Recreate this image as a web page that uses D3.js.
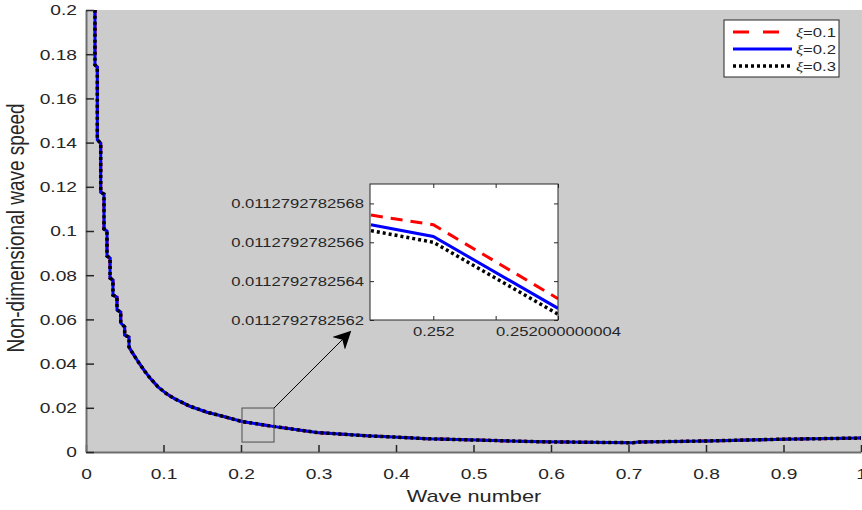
<!DOCTYPE html>
<html>
<head>
<meta charset="utf-8">
<script src="https://cdn.jsdelivr.net/npm/d3@7"></script>
<style>
  body { margin: 0; background: #fff; }
  text { font-family: "Liberation Sans", Arial, sans-serif; fill: #262626; }
</style>
</head>
<body>
<script>
// wave number samples
const waveNumber = [0.0116, 0.0116, 0.0146, 0.0146, 0.0190, 0.0190, 0.0232, 0.0232, 0.0271, 0.0271,
    0.0310, 0.0310, 0.0348, 0.0348, 0.0400, 0.0400, 0.0448, 0.0448, 0.0499, 0.0499,
    0.0555, 0.0555, 0.0606, 0.0697, 0.0760, 0.0826, 0.0929, 0.1045, 0.1150, 0.1252, 0.1342, 0.1561,
    0.1729, 0.2013, 0.2413, 0.2981, 0.3626, 0.3961, 0.4400, 0.5045, 0.5897, 0.7058,
    0.7123, 0.8013, 0.8994, 1.0000];

// non-dimensional wave speed, one array per xi (curves overlap at this scale)
const speedXi01 = [0.2300, 0.1751, 0.1742, 0.1412, 0.1398, 0.1176, 0.1167, 0.1009, 0.1000, 0.0887,
    0.0878, 0.0787, 0.0778, 0.0710, 0.0701, 0.0643, 0.0633, 0.0584, 0.0566, 0.0529,
    0.0520, 0.0475, 0.0445, 0.0396, 0.0365, 0.0335, 0.0295, 0.0262, 0.0240, 0.0222, 0.0207, 0.0180,
    0.0165, 0.0138, 0.0116, 0.0088, 0.0073, 0.0068, 0.0060, 0.0054, 0.0046, 0.0042,
    0.0045, 0.0050, 0.0058, 0.0063];
const speedXi02 = [0.2300, 0.1751, 0.1742, 0.1412, 0.1398, 0.1176, 0.1167, 0.1009, 0.1000, 0.0887,
    0.0878, 0.0787, 0.0778, 0.0710, 0.0701, 0.0643, 0.0633, 0.0584, 0.0566, 0.0529,
    0.0520, 0.0475, 0.0445, 0.0396, 0.0365, 0.0335, 0.0295, 0.0262, 0.0240, 0.0222, 0.0207, 0.0180,
    0.0165, 0.0138, 0.0116, 0.0088, 0.0073, 0.0068, 0.0060, 0.0054, 0.0046, 0.0042,
    0.0045, 0.0050, 0.0058, 0.0063];
const speedXi03 = [0.2300, 0.1751, 0.1742, 0.1412, 0.1398, 0.1176, 0.1167, 0.1009, 0.1000, 0.0887,
    0.0878, 0.0787, 0.0778, 0.0710, 0.0701, 0.0643, 0.0633, 0.0584, 0.0566, 0.0529,
    0.0520, 0.0475, 0.0445, 0.0396, 0.0365, 0.0335, 0.0295, 0.0262, 0.0240, 0.0222, 0.0207, 0.0180,
    0.0165, 0.0138, 0.0116, 0.0088, 0.0073, 0.0068, 0.0060, 0.0054, 0.0046, 0.0042,
    0.0045, 0.0050, 0.0058, 0.0063];

const xTicks = [0, 0.1, 0.2, 0.3, 0.4, 0.5, 0.6, 0.7, 0.8, 0.9, 1];
const xTickLabels = ["0", "0.1", "0.2", "0.3", "0.4", "0.5", "0.6", "0.7", "0.8", "0.9", "1"];
const yTicks = [0, 0.02, 0.04, 0.06, 0.08, 0.1, 0.12, 0.14, 0.16, 0.18, 0.2];
const yTickLabels = ["0", "0.02", "0.04", "0.06", "0.08", "0.1", "0.12", "0.14", "0.16", "0.18", "0.2"];

// zoomed window around k = 0.252
const zoomK = [0.251999999998, 0.252, 0.252000000004];
const zoomXi01 = [0.01127927825674, 0.01127927825669, 0.01127927825631];
const zoomXi02 = [0.01127927825669, 0.01127927825663, 0.01127927825626];
const zoomXi03 = [0.01127927825666, 0.01127927825660, 0.01127927825623];
const zoomXTicks = [0.252, 0.252000000002, 0.252000000004];
const zoomXTickLabels = ["0.252", "", "0.252000000004"];
const zoomYTicks = [0.0112792782562, 0.0112792782564, 0.0112792782566, 0.0112792782568];
const zoomYTickLabels = ["0.0112792782562", "0.0112792782564", "0.0112792782566", "0.0112792782568"];

const legendLabels = ["0.1", "0.2", "0.3"];

const width = 862,
    height = 510,
    sx = 1.28; // text in the original export is wider than tall

const series = [
    {label: legendLabels[0], values: speedXi01, zoom: zoomXi01, color: "#ff0000", dash: "12,8", w: 3},
    {label: legendLabels[1], values: speedXi02, zoom: zoomXi02, color: "#0000ff", dash: null, w: 3},
    {label: legendLabels[2], values: speedXi03, zoom: zoomXi03, color: "#000000", dash: "3,3", w: 3.5}
];

// widen a text selection horizontally, keeping its x anchor in place
function stretch(sel) {
    sel.each(function() {
        const t = d3.select(this);
        const x0 = +t.attr("x") || 0;
        t.attr("x", x0 / sx).attr("transform", "scale(" + sx + ",1)");
    });
}

const svg = d3.select("body").append("svg")
    .attr("width", width)
    .attr("height", height);

const x = d3.scaleLinear().domain([0, 1]).range([86, 861]);
const y = d3.scaleLinear().domain([0, 0.2]).range([452, 10]);

svg.append("defs").append("clipPath")
    .attr("id", "plotClip")
    .append("rect")
    .attr("x", 86).attr("y", 10)
    .attr("width", 775).attr("height", 442);

svg.append("rect")
    .attr("x", 86).attr("y", 10)
    .attr("width", 776).attr("height", 442)
    .attr("fill", "#cccccc");

const line = d3.line()
    .x(function(d) { return x(d[0]); })
    .y(function(d) { return y(d[1]); });

series.forEach(function(s) {
    svg.append("path")
        .attr("clip-path", "url(#plotClip)")
        .attr("d", line(waveNumber.map(function(k, i) { return [k, s.values[i]]; })))
        .attr("fill", "none")
        .attr("stroke", s.color)
        .attr("stroke-width", s.w)
        .attr("stroke-dasharray", s.dash);
});

// axes, ticks pointing inward
const xAxis = svg.append("g")
    .attr("transform", "translate(0,452)")
    .call(d3.axisBottom(x).tickValues(xTicks)
        .tickFormat(function(d, i) { return xTickLabels[i]; })
        .tickSizeInner(-7).tickSizeOuter(0).tickPadding(16));

const yAxis = svg.append("g")
    .attr("transform", "translate(86,0)")
    .call(d3.axisLeft(y).tickValues(yTicks)
        .tickFormat(function(d, i) { return yTickLabels[i]; })
        .tickSizeInner(-8).tickSizeOuter(0).tickPadding(9));

[xAxis, yAxis].forEach(function(a) {
    a.select(".domain").attr("stroke", "#6e6e6e").attr("stroke-width", 2);
    a.selectAll(".tick line").attr("stroke", "#262626").attr("stroke-width", 1.5);
    a.selectAll(".tick text").style("font-size", "15px").attr("fill", "#262626").call(stretch);
});

svg.append("text")
    .attr("x", 474).attr("y", 502)
    .attr("text-anchor", "middle")
    .style("font-size", "17px")
    .text("Wave number")
    .call(stretch);

svg.append("text")
    .attr("transform", "translate(24,228) scale(" + sx + ",1) rotate(-90)")
    .attr("text-anchor", "middle")
    .style("font-size", "19px")
    .text("Non-dimensional wave speed");

// box around the zoomed region and the arrow
const zoomBox = {k0: 0.2013, k1: 0.2426, c0: 0.0045, c1: 0.0199};
svg.append("rect")
    .attr("x", x(zoomBox.k0)).attr("y", y(zoomBox.c1))
    .attr("width", x(zoomBox.k1) - x(zoomBox.k0))
    .attr("height", y(zoomBox.c0) - y(zoomBox.c1))
    .attr("fill", "none")
    .attr("stroke", "#4d4d4d")
    .attr("stroke-width", 1);

svg.append("defs").append("marker")
    .attr("id", "arrowHead")
    .attr("viewBox", "0 0 10 10")
    .attr("refX", 9).attr("refY", 5)
    .attr("markerWidth", 18).attr("markerHeight", 18)
    .attr("markerUnits", "userSpaceOnUse")
    .attr("orient", "auto")
    .append("path")
    .attr("d", "M0,0 L10,5 L0,10 L3,5 Z")
    .attr("fill", "#000");

svg.append("line")
    .attr("x1", x(zoomBox.k1)).attr("y1", y(zoomBox.c1))
    .attr("x2", 350).attr("y2", 332)
    .attr("stroke", "#000")
    .attr("stroke-width", 1)
    .attr("marker-end", "url(#arrowHead)");

// inset
const ix = d3.scaleLinear().domain([0.25199999999797, 0.252000000004]).range([370, 558]);
const iy = d3.scaleLinear().domain([0.0112792782562, 0.0112792782569]).range([320, 184]);

svg.append("defs").append("clipPath")
    .attr("id", "insetClip")
    .append("rect")
    .attr("x", 370).attr("y", 184)
    .attr("width", 188).attr("height", 136);

svg.append("rect")
    .attr("x", 370).attr("y", 184)
    .attr("width", 188).attr("height", 136)
    .attr("fill", "#fff");

const zoomLine = d3.line()
    .x(function(d) { return ix(d[0]); })
    .y(function(d) { return iy(d[1]); });

series.forEach(function(s) {
    svg.append("path")
        .attr("clip-path", "url(#insetClip)")
        .attr("d", zoomLine(zoomK.map(function(k, i) { return [k, s.zoom[i]]; })))
        .attr("fill", "none")
        .attr("stroke", s.color)
        .attr("stroke-width", s === series[2] ? 3.5 : 3)
        .attr("stroke-dasharray", s.dash);
});

const ixAxis = svg.append("g")
    .attr("transform", "translate(0,320)")
    .call(d3.axisBottom(ix).tickValues(zoomXTicks)
        .tickFormat(function(d, i) { return zoomXTickLabels[i]; })
        .tickSizeInner(-4).tickSizeOuter(0).tickPadding(7));
const ixTop = svg.append("g")
    .attr("transform", "translate(0,184)")
    .call(d3.axisTop(ix).tickValues(zoomXTicks).tickFormat("")
        .tickSizeInner(-4).tickSizeOuter(0));
const iyAxis = svg.append("g")
    .attr("transform", "translate(370,0)")
    .call(d3.axisLeft(iy).tickValues(zoomYTicks)
        .tickFormat(function(d, i) { return zoomYTickLabels[i]; })
        .tickSizeInner(-4).tickSizeOuter(0).tickPadding(6));
const iyRight = svg.append("g")
    .attr("transform", "translate(558,0)")
    .call(d3.axisRight(iy).tickValues(zoomYTicks).tickFormat("")
        .tickSizeInner(-4).tickSizeOuter(0));

[ixAxis, ixTop, iyAxis, iyRight].forEach(function(a) {
    a.select(".domain").remove();
    a.selectAll(".tick line").attr("stroke", "#262626").attr("stroke-width", 1);
    a.selectAll(".tick text").style("font-size", "13px").attr("fill", "#262626").call(stretch);
});

svg.append("rect")
    .attr("x", 370).attr("y", 184)
    .attr("width", 188).attr("height", 136)
    .attr("fill", "none")
    .attr("stroke", "#262626")
    .attr("stroke-width", 1);

// legend
const legend = svg.append("g")
    .attr("transform", "translate(724,20)");

legend.append("rect")
    .attr("width", 115).attr("height", 57)
    .attr("fill", "#fff")
    .attr("stroke", "#262626")
    .attr("stroke-width", 1);

const pairs = legend.selectAll(".pairs")
    .data(series)
    .enter().append("g")
    .attr("class", "pairs")
    .attr("transform", function(d, i) { return "translate(0," + (12 + i * 17) + ")"; });

pairs.append("line")
    .attr("x1", 9).attr("x2", 68)
    .attr("stroke", function(d) { return d.color; })
    .attr("stroke-width", function(d) { return d.w; })
    .attr("stroke-dasharray", function(d) { return d.dash === "12,8" ? "16,14" : d.dash; });

const lt = pairs.append("text")
    .attr("x", 72).attr("dy", "0.35em")
    .style("font-size", "13px");
lt.append("tspan")
    .style("font-family", "'Liberation Serif', serif")
    .style("font-style", "italic")
    .text("ξ");
lt.append("tspan").text(function(d) { return "=" + d.label; });
lt.call(stretch);
</script>
</body>
</html>
